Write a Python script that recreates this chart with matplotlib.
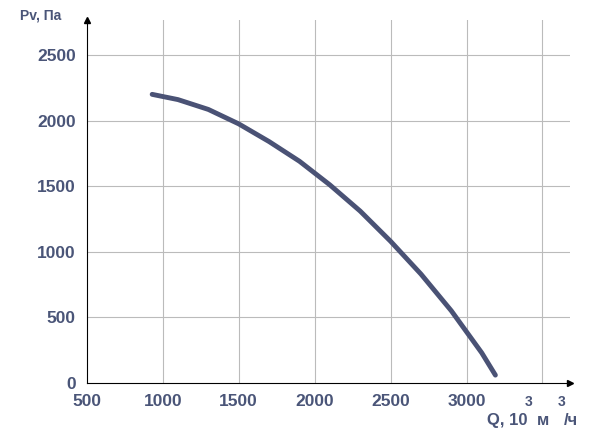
import matplotlib.pyplot as plt

q = [930, 1100, 1300, 1500, 1700, 1900, 2100, 2300, 2500, 2700, 2900, 3100, 3190]
pv = [2200, 2160, 2085, 1975, 1840, 1690, 1510, 1310, 1080, 830, 550, 230, 60]
xticks = [500, 1000, 1500, 2000, 2500, 3000]
yticks = [0, 500, 1000, 1500, 2000, 2500]

ink = "#4a5578"
plt.rcParams["font.family"] = ["Liberation Sans", "DejaVu Sans"]

fig = plt.figure(figsize=(6.16, 4.36), dpi=100)
ax = fig.add_axes([0.141, 0.1216, 0.784, 0.8326])
ax.set_xlim(500, 3680)
ax.set_ylim(0, 2767)
for v in [1000, 1500, 2000, 2500, 3000, 3500]:
    ax.axvline(v, color="#bbbbbb", lw=0.8, zorder=0)
for v in [500, 1000, 1500, 2000, 2500]:
    ax.axhline(v, color="#bbbbbb", lw=0.8, zorder=0)
ax.plot(q, pv, color="#4a5275", lw=3.5, solid_capstyle="round", solid_joinstyle="round")

for s in ["top", "right"]:
    ax.spines[s].set_visible(False)
ax.plot(1, 0, ">k", transform=ax.transAxes, clip_on=False, ms=5)
ax.plot(0, 1, "^k", transform=ax.transAxes, clip_on=False, ms=5)

ax.set_xticks(xticks)
ax.set_yticks(yticks)
ax.tick_params(length=0, pad=8, labelsize=12.5, labelcolor=ink)
for t in ax.get_xticklabels() + ax.get_yticklabels():
    t.set_fontweight("bold")

fig.text(0.032, 0.955, "Pv, Па", fontsize=10, fontweight="bold", color=ink)
fig.text(0.79, 0.025, "Q, 10", fontsize=12, fontweight="bold", color=ink)
fig.text(0.852, 0.068, "3", fontsize=10, fontweight="bold", color=ink)
fig.text(0.872, 0.025, "м", fontsize=12, fontweight="bold", color=ink)
fig.text(0.905, 0.068, "3", fontsize=10, fontweight="bold", color=ink)
fig.text(0.915, 0.025, "/ч", fontsize=12, fontweight="bold", color=ink)

fig.savefig("out.png", dpi=100)
